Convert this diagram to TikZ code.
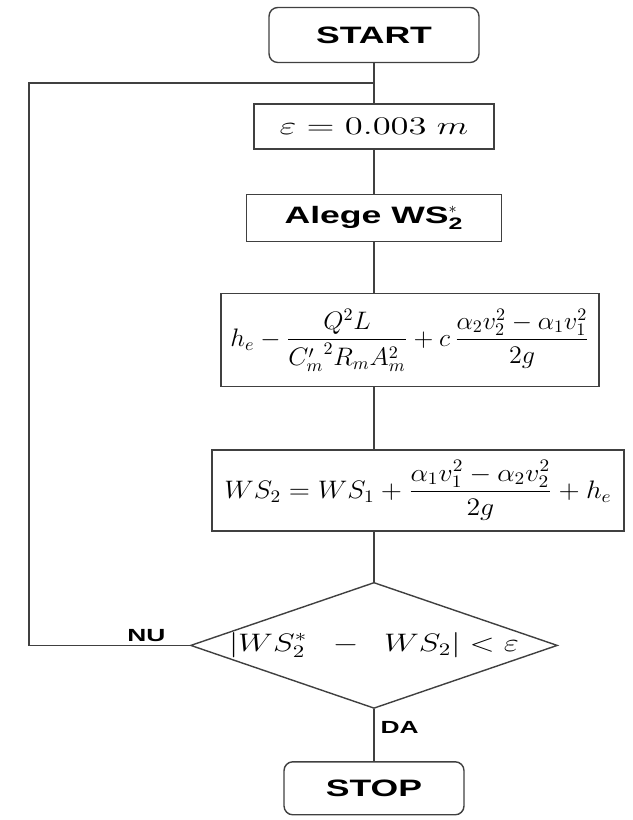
\documentclass[tikz,border=0pt]{standalone}
\usepackage{amsmath}
\usepackage{graphicx}
\usepackage{fontspec}
\setsansfont{Liberation Sans}[FakeStretch=1.5]
\usetikzlibrary{positioning, calc, shapes.geometric}
\newcommand{\wmath}[2]{\scalebox{#1}[1]{$\displaystyle #2$}}

\begin{document}
\begin{tikzpicture}[x=0.02cm, y=-0.02cm, thick, draw=black!75,
    box/.style={draw, rectangle, inner sep=1pt, font=\Large},
    term/.style={draw, rectangle, rounded corners=5pt, minimum width=4.2cm,
      minimum height=1.1cm, font=\fontsize{13.5}{16}\selectfont\sffamily\bfseries},
    test/.style={draw, diamond, aspect=2.9, inner sep=0pt, minimum width=7.34cm,
      minimum height=2.52cm, font=\Large},
    tag/.style={font=\fontsize{10}{12}\selectfont\sffamily\bfseries}]
  \useasboundingbox (0,0) rectangle (632,820);
  \node[term] (start) at (374,35) {START};
  \node[box, below=8mm of start, minimum width=4.8cm, minimum height=0.9cm] (eps)
        {\wmath{1.45}{\varepsilon = 0.003\;m}};
  \node[box, below=8.8mm of eps, minimum width=5.1cm, minimum height=0.94cm,
        font=\fontsize{13.5}{16}\selectfont\sffamily\bfseries] (alege) {Alege WS$^{*}_{\textsf{2}}$};
  \node[box, below=10.2mm of alege, xshift=7.2mm, minimum width=7.56cm,
        minimum height=1.86cm] (hs)
        {\wmath{1.03}{h_e - \frac{Q^2L}{{C'_m}^{2}R_mA_m^2} + c\,\frac{\alpha_2v_2^2-\alpha_1v_1^2}{2g}}};
  \node[box, below=12.4mm of hs, xshift=1.6mm, minimum width=8.24cm,
        minimum height=1.62cm] (ws2)
        {\wmath{1.1}{WS_2 = WS_1 + \frac{\alpha_1v_1^2-\alpha_2v_2^2}{2g} + h_e}};
  \node[test, below=10mm of ws2, xshift=-8.8mm] (check)
        {\wmath{1.3}{\left|WS_2^{*} \;\;-\;\; WS_2\right| < \varepsilon}};
  \node[term, below=10.4mm of check, minimum width=3.6cm, minimum height=1.06cm] (stop) {STOP};
  \coordinate (join) at ($(start.south)!0.5!(eps.north)$);
  \coordinate (edge) at (29,400);
  % main flow
  \draw (start) -- (eps);
  \draw (eps) -- (alege);
  \draw (alege) -- (alege |- hs.north);
  \draw (hs.south -| alege) -- (alege |- ws2.north);
  \draw (ws2.south -| alege) -- (check);
  \draw (check) -- node[tag, right, pos=0.36] {DA} (stop);
  % loop back
  \draw (check.west) -- node[tag, above, pos=0.27, inner sep=2pt] {NU}
        (check.west -| edge) |- (join);
\end{tikzpicture}
\end{document}
